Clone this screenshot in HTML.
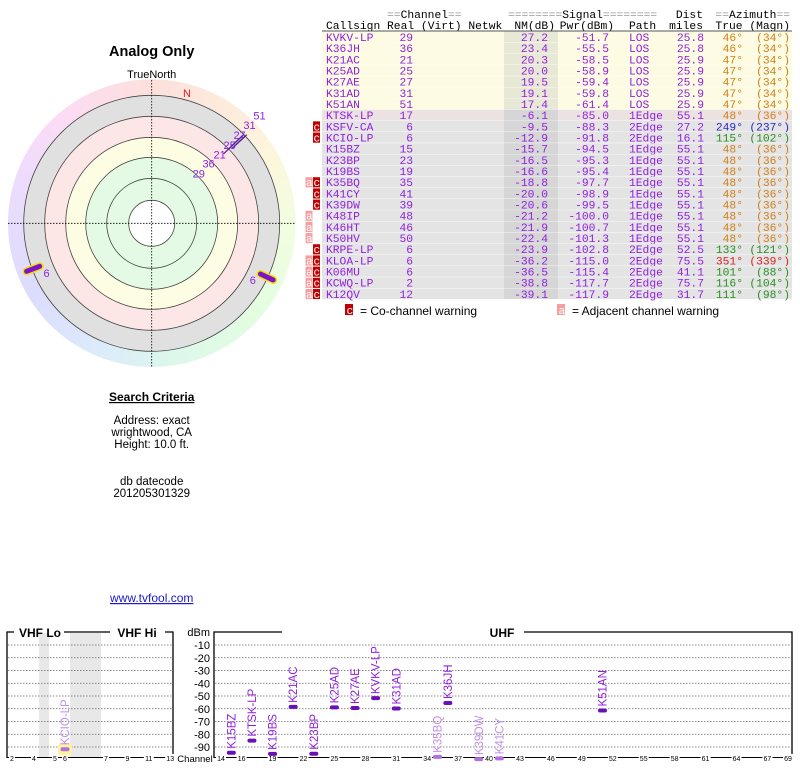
<!DOCTYPE html>
<html><head><meta charset="utf-8"><style>
html,body{margin:0;padding:0;background:#fff;width:800px;height:768px;overflow:hidden}
svg{display:block}
.m{font-family:"Liberation Mono",monospace;font-size:11.3px}
.s{font-family:"Liberation Sans",sans-serif}
</style></head><body>
<svg id="root" width="800" height="768" viewBox="0 0 800 768" xmlns="http://www.w3.org/2000/svg">
<defs>
<clipPath id="ringclip"><circle cx="151.7" cy="223.3" r="144"/></clipPath>
</defs>
<g id="left">
<text x="151.7" y="56" text-anchor="middle" class="s" font-size="14.5" font-weight="bold">Analog Only</text>
<text x="151.7" y="78" text-anchor="middle" class="s" font-size="11">TrueNorth</text>
<foreignObject x="7.7" y="79.3" width="288" height="288" clip-path="url(#ringclip)">
<div xmlns="http://www.w3.org/1999/xhtml" style="width:288px;height:288px;border-radius:50%;background:conic-gradient(from 0deg,#fde0dc,#fdeadc 30deg,#fdf6dc 60deg,#f2fde0 90deg,#e4fde0 130deg,#dcf8ea 170deg,#dcecfa 200deg,#dcdcfd 240deg,#eedcfd 290deg,#fcdcf4 320deg,#fde0dc 360deg)"></div>
</foreignObject>
<circle cx="151.7" cy="223.3" r="128" fill="#e0e0e0"/>
<circle cx="151.7" cy="223.3" r="107" fill="#fde6e6"/>
<circle cx="151.7" cy="223.3" r="86" fill="#fdfde4"/>
<circle cx="151.7" cy="223.3" r="66" fill="#e4fae4"/>
<circle cx="151.7" cy="223.3" r="23" fill="#fff"/>
<g fill="none" stroke="#444" stroke-width="0.8">
<circle cx="151.7" cy="223.3" r="23"/><circle cx="151.7" cy="223.3" r="45"/><circle cx="151.7" cy="223.3" r="66"/><circle cx="151.7" cy="223.3" r="86"/><circle cx="151.7" cy="223.3" r="107"/><circle cx="151.7" cy="223.3" r="128"/>
</g>
<g stroke="#000" stroke-width="0.8" stroke-dasharray="1.5,1.5">
<line x1="151.7" y1="80" x2="151.7" y2="367"/><line x1="8" y1="223.3" x2="296" y2="223.3"/>
</g>
<text x="183" y="97" class="s" font-size="11" fill="#e02020">N</text>
<g id="polar"></g>
<text x="151.7" y="401" text-anchor="middle" class="s" font-size="12" font-weight="bold" text-decoration="underline">Search Criteria</text>
<g class="s" font-size="11.5" text-anchor="middle">
<text x="151.7" y="424">Address: exact</text>
<text x="151.7" y="436">wrightwood, CA</text>
<text x="151.7" y="448">Height: 10.0 ft.</text>
<text x="151.7" y="485">db datecode</text>
<text x="151.7" y="497">201205301329</text>
</g>
<text x="151.7" y="602" text-anchor="middle" class="s" font-size="12" fill="#1a1acc" text-decoration="underline">www.tvfool.com</text>
</g>
<g id="table"></g>
<g id="legend">
<rect x="345" y="304" width="8" height="11" fill="#c00000"/><text x="346.5" y="314" class="m" font-size="11" fill="#fff">c</text>
<text x="360" y="315" class="s" font-size="12">= Co-channel warning</text>
<rect x="557" y="304" width="8" height="11" fill="#f4a0a0"/><text x="558.5" y="314" class="m" font-size="11" fill="#fff">a</text>
<text x="572" y="315" class="s" font-size="12">= Adjacent channel warning</text>
</g>
<g id="spectrum"></g>
</svg>
<script>
var NS="http://www.w3.org/2000/svg";
function mk(tag,attrs,parent,txt){var e=document.createElementNS(NS,tag);for(var k in attrs)e.setAttribute(k,attrs[k]);if(txt!==undefined)e.textContent=txt;parent.appendChild(e);return e;}
// ---- table data ----
var callsigns=["KVKV-LP","K36JH","K21AC","K25AD","K27AE","K31AD","K51AN","KTSK-LP","KSFV-CA","KCIO-LP","K15BZ","K23BP","K19BS","K35BQ","K41CY","K39DW","K48IP","K46HT","K50HV","KRPE-LP","KLOA-LP","K06MU","KCWQ-LP","K12QV"];
var channels=[29,36,21,25,27,31,51,17,6,6,15,23,19,35,41,39,48,46,50,6,6,6,2,12];
var nmdb=[27.2,23.4,20.3,20.0,19.5,19.1,17.4,-6.1,-9.5,-12.9,-15.7,-16.5,-16.6,-18.8,-20.0,-20.6,-21.2,-21.9,-22.4,-23.9,-36.2,-36.5,-38.8,-39.1];
var pwr=[-51.7,-55.5,-58.5,-58.9,-59.4,-59.8,-61.4,-85.0,-88.3,-91.8,-94.5,-95.3,-95.4,-97.7,-98.9,-99.5,-100.0,-100.7,-101.3,-102.8,-115.0,-115.4,-117.7,-117.9];
var paths=["LOS","LOS","LOS","LOS","LOS","LOS","LOS","1Edge","2Edge","2Edge","1Edge","1Edge","1Edge","1Edge","1Edge","1Edge","1Edge","1Edge","1Edge","2Edge","2Edge","2Edge","2Edge","2Edge"];
var dist=[25.8,25.8,25.9,25.9,25.9,25.9,25.9,55.1,27.2,16.1,55.1,55.1,55.1,55.1,55.1,55.1,55.1,55.1,55.1,52.5,75.5,41.1,75.7,31.7];
var azTrue=[46,46,47,47,47,47,47,48,249,115,48,48,48,48,48,48,48,48,48,133,351,101,116,111];
var azMagn=[34,34,34,34,34,34,34,36,237,102,36,36,36,36,36,36,36,36,36,121,339,88,104,98];
var coWarn=[0,0,0,0,0,0,0,0,1,1,0,0,0,1,1,1,0,0,0,1,1,1,1,1];
var adjWarn=[0,0,0,0,0,0,0,0,0,0,0,0,0,1,0,0,1,1,1,0,1,1,1,1];
var T=document.getElementById('table');
var top0=31.5,rh=11.17;
var hg=mk('g',{'class':'m'},T);


function hdr(x,y,t,anchor){var e=mk('text',{x:x,y:y,'text-anchor':anchor||'start'},hg);
var parts=t.split(/(=+)/);parts.forEach(function(p){if(!p)return;var s=mk('tspan',{},e,p);if(p[0]==='=')s.setAttribute('fill','#999');});return e;}
hdr(387,18,"==Channel==");hdr(508,18,"========Signal========");hdr(703,18,"Dist",'end');hdr(790,18,"==Azimuth==",'end');
hdr(326,29,"Callsign Real (Virt) Netwk");hdr(555,29,"NM(dB)",'end');hdr(614,29,"Pwr(dBm)",'end');hdr(629,29,"Path");hdr(703,29,"miles",'end');hdr(790,29,"True (Magn)",'end');
mk('line',{x1:322,y1:31,x2:792,y2:31,stroke:'#555','stroke-width':1},T);
function azCol(a){if(a<=60)return '#d08018';if(a>300)return '#d82020';if(a>200)return '#2828c0';return '#289020';}
for(var i=0;i<callsigns.length;i++){
  var y=top0+i*rh;
  var g=mk('g',{'class':'m'},T);
  
  
  var bg=i<7?'#fdfbe2':(i==7?'#ece2e2':'#e4e4e4');
  mk('rect',{x:322,y:y,width:470,height:rh,fill:bg},g);
  mk('rect',{x:504,y:y,width:54,height:rh,fill:i<7?'#e8e8d6':'#d6d6d6'},g);
  mk('line',{x1:322,y1:y+rh,x2:792,y2:y+rh,stroke:'#fff','stroke-width':0.8},g);
  if(coWarn[i]){mk('rect',{x:313,y:y+0.5,width:7,height:rh-1,fill:'#c00000'},g);mk('text',{x:313.5,y:y+9.5,fill:'#fff','font-size':'11'},g,'c');}
  if(adjWarn[i]){mk('rect',{x:305.5,y:y+0.5,width:7,height:rh-1,fill:'#f4a0a0'},g);mk('text',{x:306,y:y+9.5,fill:'#fff','font-size':'11'},g,'a');}
  var by=y+9.5,c='#9020e0';
  mk('text',{x:326,y:by,fill:c},g,callsigns[i]);
  mk('text',{x:413,y:by,fill:c,'text-anchor':'end'},g,String(channels[i]));
  mk('text',{x:548,y:by,fill:c,'text-anchor':'end'},g,nmdb[i].toFixed(1));
  mk('text',{x:609,y:by,fill:c,'text-anchor':'end'},g,pwr[i].toFixed(1));
  mk('text',{x:629,y:by,fill:c},g,paths[i]);
  mk('text',{x:704,y:by,fill:c,'text-anchor':'end'},g,dist[i].toFixed(1));
  mk('text',{x:743,y:by,fill:azCol(azTrue[i]),'text-anchor':'end'},g,azTrue[i]+'°');
  mk('text',{x:790,y:by,fill:azCol(azTrue[i]),'text-anchor':'end'},g,'('+azMagn[i]+'°)');
}
// ---- polar ----
var P=document.getElementById('polar'),cx=151.7,cy=223.3;
function pt(az,r){var a=az*Math.PI/180;return [cx+r*Math.sin(a),cy-r*Math.cos(a)];}
var rank=0;
for(var i=0;i<callsigns.length;i++){
  if(pwr[i]<-92)continue;
  var g=mk('g',{},P);
  
  
  if(azTrue[i]<100){
    if(nmdb[i]<0)continue;
    var a=pt(azTrue[i],100+rank*5),b=pt(azTrue[i],128);
    mk('line',{x1:a[0],y1:a[1],x2:b[0],y2:b[1],stroke:'#502090','stroke-width':1.2},g);
    var l=pt(azTrue[i]-1.5,70+rank*14);
    mk('text',{x:l[0]-2,y:l[1]+4,'class':'s','font-size':'11',fill:'#9020e0','text-anchor':'middle'},g,String(channels[i]));
    rank++;
  } else {
    var a=pt(azTrue[i],120),b=pt(azTrue[i],134);
    mk('line',{x1:a[0],y1:a[1],x2:b[0],y2:b[1],stroke:'#f0e000','stroke-width':8,'stroke-linecap':'round'},g);
    mk('line',{x1:a[0],y1:a[1],x2:b[0],y2:b[1],stroke:'#8010d0','stroke-width':5,'stroke-linecap':'round'},g);
    var l=pt(azTrue[i]+(azTrue[i]>180?-6:6),118);
    mk('text',{x:l[0],y:l[1],'class':'s','font-size':'11',fill:'#9020e0','text-anchor':'middle'},g,String(channels[i]));
  }
}
// ---- spectrum chart ----
var S=document.getElementById('spectrum');
var dbTicks=[-10,-20,-30,-40,-50,-60,-70,-80,-90];
var vhfTicks=[2,4,5,6,7,9,11,13];
var uhfTicks=[14,16,19,22,25,28,31,34,37,40,43,46,49,52,55,58,61,64,67,69];
function yOf(v){return 632.25+(-v)*1.275;}
function xU(ch){return 221+(ch-14)*10.31;}
function xV(ch){if(ch<=4)return 12+(ch-2)*11;if(ch<=6)return 55+(ch-5)*10;return 106+(ch-7)*10.7;}
function xCh(ch){return ch>=14?xU(ch):xV(ch);}
mk('rect',{x:39,y:633,width:10,height:124,fill:'#e8e8e8'},S);
mk('rect',{x:70,y:633,width:31,height:124,fill:'#e8e8e8'},S);
var gg=mk('g',{},S);


dbTicks.forEach(function(v){var y=yOf(v);
  mk('line',{x1:8,y1:y,x2:172,y2:y,stroke:'#666','stroke-width':0.8,'stroke-dasharray':'1.5,1.5'},gg);
  mk('line',{x1:215,y1:y,x2:791,y2:y,stroke:'#666','stroke-width':0.8,'stroke-dasharray':'1.5,1.5'},gg);
  var t=mk('text',{x:210,y:y+4,'text-anchor':'end','class':'s','font-size':'11'},S,String(v));
  
  
});
var yl=mk('text',{x:210,y:636,'text-anchor':'end','class':'s','font-size':'11'},S,'dBm');


var fr=mk('g',{fill:'none',stroke:'#000','stroke-width':1.3},S);


mk('polyline',{points:'14,632 7,632 7,758'},fr);
mk('line',{x1:64,y1:632,x2:110,y2:632},fr);
mk('polyline',{points:'165,632 173,632 173,758'},fr);
mk('polyline',{points:'282,632 214,632 214,758'},fr);
mk('polyline',{points:'524,632 792,632 792,758'},fr);
mk('line',{x1:7,y1:757.5,x2:173,y2:757.5,stroke:'#000','stroke-width':1},S);
mk('line',{x1:214,y1:757.5,x2:792,y2:757.5,stroke:'#000','stroke-width':1},S);
[['VHF Lo',40],['VHF Hi',137],['UHF',502]].forEach(function(b){var t=mk('text',{x:b[1],y:637,'text-anchor':'middle','class':'s','font-size':'12','font-weight':'bold'},S,b[0]);
  
  });
var cl=mk('text',{x:195,y:762,'text-anchor':'middle','class':'s','font-size':'9.5'},S,'Channel');


vhfTicks.concat(uhfTicks).forEach(function(ch){var x=xCh(ch);
  var w=String(ch).length*4+2;
  mk('rect',{x:x-w/2,y:754,width:w,height:8,fill:'#fff'},S);
  var t=mk('text',{x:x,y:761,'text-anchor':'middle','class':'s','font-size':'7'},S,String(ch));
  
  });
for(var i=0;i<callsigns.length;i++){
  if(pwr[i]<=-100)continue;
  if(channels[i]===6&&callsigns[i]!=='KCIO-LP')continue;
  var weak=coWarn[i]&&channels[i]>=14||channels[i]<14;
  var x=xCh(channels[i]),y=yOf(pwr[i]);
  var g=mk('g',{},S);
  
  
  if(channels[i]<14)mk('rect',{x:x-7,y:y-6,width:14,height:12,rx:3,fill:'#fff2a0'},g);
  mk('rect',{x:x-4.5,y:y-2,width:9,height:4,rx:2,fill:weak?'#b070e0':'#6a10b8'},g);
  mk('text',{x:0,y:0,transform:'translate('+(x+4)+','+(y-4)+') rotate(-90)','class':'s','font-size':'11.5',fill:weak?'#c090e8':'#9020e0'},g,callsigns[i]);
}
</script>
</body></html>
